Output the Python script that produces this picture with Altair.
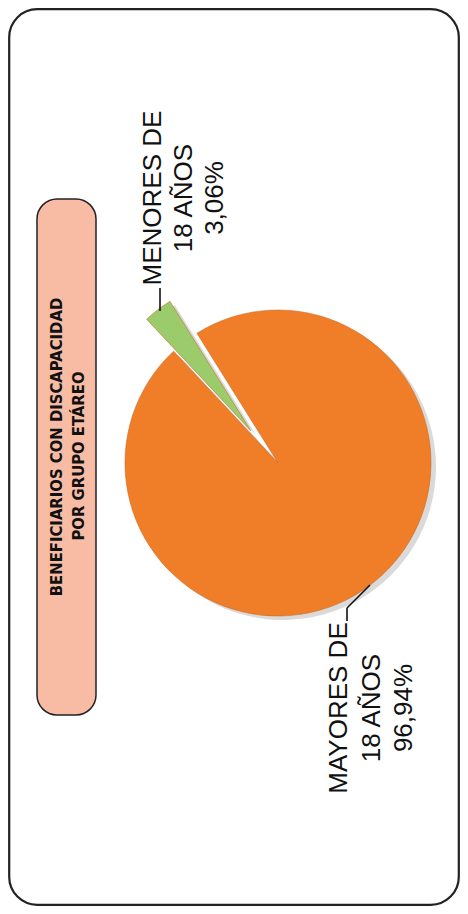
import math
import altair as alt
import pandas as pd

# ---------------- data ----------------
grupos = ["MAYORES DE 18 AÑOS", "MENORES DE 18 AÑOS"]
porcentajes = [96.94, 3.06]
colores = ["#F07D28", "#9CCB6C"]
titulo = ["BENEFICIARIOS CON DISCAPACIDAD", "POR GRUPO ETÁREO"]
etiqueta_mayores = ["MAYORES DE", "18 AÑOS", "96,94%"]
etiqueta_menores = ["MENORES DE", "18 AÑOS", "3,06%"]

# ---------------- layout ----------------
W, H = 452, 898
M = 8  # page margin


def px(v):
    return v - M


df = pd.DataFrame({"grupo": grupos, "valor": porcentajes, "orden": list(range(len(grupos)))})
dummy = pd.DataFrame({"k": [0]})

start = math.radians(-32) + 2 * math.pi
theta_scale = alt.Scale(range=[start, start + 2 * math.pi])
color_scale = alt.Scale(domain=grupos, range=colores)

R = 153
cx, cy = px(278), px(463)
# exploded slice offset
ex, ey = px(251), px(431)


def pie(x0, y0, visible, shadow=False):
    test = f"datum.grupo == '{visible}'"
    if shadow:
        return alt.Chart(df).mark_arc(radius=R, color="#7a7a7a").encode(
            theta=alt.Theta("valor:Q", stack=True, scale=theta_scale),
            order=alt.Order("orden:Q"),
            opacity=alt.condition(test, alt.value(0.28), alt.value(0)),
            x=alt.value(x0), y=alt.value(y0),
        )
    return alt.Chart(df).mark_arc(radius=R, stroke="#C9661F", strokeWidth=0.8).encode(
        theta=alt.Theta("valor:Q", stack=True, scale=theta_scale),
        order=alt.Order("orden:Q"),
        color=alt.Color("grupo:N", scale=color_scale, legend=None),
        opacity=alt.condition(test, alt.value(1), alt.value(0)),
        strokeOpacity=alt.condition(test, alt.value(0.7), alt.value(0)),
        x=alt.value(x0), y=alt.value(y0),
        tooltip=["grupo:N", "valor:Q"],
    )


def rect(x1, y1, x2, y2, fill, radius, fill_opacity=1.0, sw=1.5):
    return alt.Chart(dummy).mark_rect(
        fill=fill, fillOpacity=fill_opacity, stroke="#222222", strokeWidth=sw, cornerRadius=radius
    ).encode(x=alt.value(px(x1)), x2=alt.value(px(x2)), y=alt.value(px(y1)), y2=alt.value(px(y2)))


def texto(s, x, y, size, font, bold=False):
    return alt.Chart(dummy).mark_text(
        text=s, angle=270, align="center", baseline="middle", fontSize=size,
        font=font, fontWeight="bold" if bold else "normal", color="#111111",
    ).encode(x=alt.value(px(x)), y=alt.value(px(y)))


def rule(x1, y1, x2, y2):
    return alt.Chart(dummy).mark_rule(color="#111111", strokeWidth=1.6).encode(
        x=alt.value(px(x1)), y=alt.value(px(y1)), x2=alt.value(px(x2)), y2=alt.value(px(y2))
    )


narrow = "DejaVu Sans Condensed, sans-serif"
normal = "Liberation Sans, Arial, sans-serif"

layers = [
    rect(9.2, 9.2, 458.8, 904.8, "white", 28, fill_opacity=0, sw=2.2),
    rect(37, 199, 96, 715, "#F8BCA5", 20),
    texto(titulo[0], 57, 447, 16.5, narrow, bold=True),
    texto(titulo[1], 79, 456, 16.5, narrow, bold=True),
    pie(cx + 5, cy + 4, grupos[0], shadow=True),
    pie(ex + 5, ey + 4, grupos[1], shadow=True),
    pie(cx, cy, grupos[0]),
    pie(ex, ey, grupos[1]),
    rule(160, 288, 160, 311),
    rule(347, 621, 347, 608),
    rule(347, 608, 370, 585),
]
for i, s in enumerate(etiqueta_menores):
    layers.append(texto(s, [153, 184, 215][i], 198, 26, normal))
for i, s in enumerate(etiqueta_mayores):
    layers.append(texto(s, [339, 372, 404][i], 708, 26, normal))

chart = alt.layer(*layers).properties(
    width=W, height=H, padding=0, autosize=alt.AutoSizeParams(type="none"), background="white"
).configure_view(stroke=None)

chart.save("out.html", embed_options={"renderer": "svg", "actions": False})
